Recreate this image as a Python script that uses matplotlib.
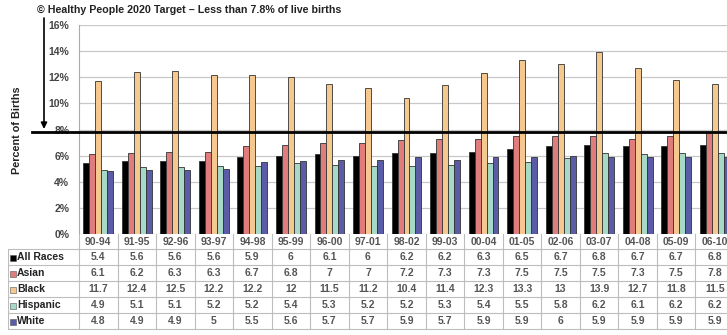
import numpy as np
import matplotlib
matplotlib.use("Agg")
import matplotlib.pyplot as plt

plt.rcParams['font.family'] = ['Liberation Sans', 'DejaVu Sans']

# ----------------------------
# Data (percent of live births, 5-year groups)
# ----------------------------
categories = ['90-94', '91-95', '92-96', '93-97', '94-98', '95-99', '96-00', '97-01',
              '98-02', '99-03', '00-04', '01-05', '02-06', '03-07', '04-08', '05-09', '06-10']
all_races = [5.4, 5.6, 5.6, 5.6, 5.9, 6, 6.1, 6, 6.2, 6.2, 6.3, 6.5, 6.7, 6.8, 6.7, 6.7, 6.8]
asian = [6.1, 6.2, 6.3, 6.3, 6.7, 6.8, 7, 7, 7.2, 7.3, 7.3, 7.5, 7.5, 7.5, 7.3, 7.5, 7.8]
black = [11.7, 12.4, 12.5, 12.2, 12.2, 12, 11.5, 11.2, 10.4, 11.4, 12.3, 13.3, 13, 13.9, 12.7, 11.8, 11.5]
hispanic = [4.9, 5.1, 5.1, 5.2, 5.2, 5.4, 5.3, 5.2, 5.2, 5.3, 5.4, 5.5, 5.8, 6.2, 6.1, 6.2, 6.2]
white = [4.8, 4.9, 4.9, 5, 5.5, 5.6, 5.7, 5.7, 5.9, 5.7, 5.9, 5.9, 6, 5.9, 5.9, 5.9, 5.9]

series_names = ['All Races', 'Asian', 'Black', 'Hispanic', 'White']
series = [all_races, asian, black, hispanic, white]
colors = ['#000000', '#E07C7C', '#F4C88E', '#A6DAC6', '#5B5CA8']

target = 7.8

W, H = 727, 335
fig = plt.figure(figsize=(W / 100, H / 100), dpi=100)

# axes in pixel terms: x 79..734 (runs past the right edge), y 25..234 from top
x0, x1 = 79, 734
y_top, y_bot = 25, 234
ax = fig.add_axes([x0 / W, 1 - y_bot / H, (x1 - x0) / W, (y_bot - y_top) / H])

n = len(categories)
x = np.arange(n)
bw = 0.155
for k, (vals, c) in enumerate(zip(series, colors)):
    ax.bar(x + (k - 2) * bw, vals, width=bw, color=c, edgecolor='#333333',
           linewidth=0.6, zorder=3)

ax.set_xlim(-0.5, n - 0.5)
ax.set_ylim(0, 16)
ax.set_yticks(np.arange(0, 17, 2))
ax.set_yticklabels([f'{v}%' for v in range(0, 17, 2)], fontsize=7.5,
                   fontweight='bold', color='#444444')
ax.tick_params(axis='y', length=0, pad=7)
ax.set_xticks([])
ax.grid(axis='y', color='#c8c8c8', linewidth=0.9, zorder=0)
for s in ['top', 'right', 'bottom']:
    ax.spines[s].set_visible(False)
ax.spines['left'].set_color('#aaaaaa')
ax.spines['left'].set_linewidth(0.8)

# target line, reaching out to the left of the axes
px = (x1 - x0) / n
ax.plot([-0.5 - 47 / px, n - 0.5], [target, target], color='black',
        linewidth=2, clip_on=False, zorder=5)

# arrow and labels
ax.annotate('', xy=(44, H - 129), xytext=(44, H - 18),
            xycoords='figure pixels', textcoords='figure pixels',
            arrowprops=dict(arrowstyle='-|>', color='black', lw=1.2,
                            mutation_scale=9, shrinkA=0, shrinkB=0))
fig.text(17 / W, 1 - 130 / H, 'Percent of Births', rotation=90, ha='center',
         va='center', fontsize=7.8, fontweight='bold', color='#222222')
fig.text(37 / W, 1 - 10 / H, '\u00a9 Healthy People 2020 Target \u2013 Less than 7.8% of live births',
         ha='left', va='center', fontsize=7.7, fontweight='bold', color='#222222')

# ----------------------------
# Data table underneath
# ----------------------------
tx0 = 8
tab = fig.add_axes([tx0 / W, 0, (x1 - tx0) / W, 1 - y_bot / H])
tab.set_xlim(-0.5 - (x0 - tx0) / px, n - 0.5)
tab.set_ylim(H, y_bot)
tab.axis('off')

grid_c = '#bdbdbd'
rows = [249, 265, 281, 297, 313, 329]
for yy in rows:
    tab.plot([-0.5 - (x0 - tx0) / px, n - 0.5], [yy, yy], color=grid_c, lw=0.8)
tab.plot([-0.5 - (x0 - tx0) / px] * 2, [rows[0], rows[-1]], color=grid_c, lw=0.8)
for i in range(n + 1):
    tab.plot([i - 0.5, i - 0.5], [y_bot, rows[-1]], color=grid_c, lw=0.8)

for i, cat in enumerate(categories):
    tab.text(i, (y_bot + rows[0]) / 2 + 0.5, cat, ha='center', va='center',
             fontsize=7.5, fontweight='bold', color='#555555')

lab_x = -0.5 - (x0 - tx0) / px
for r, (name, vals, c) in enumerate(zip(series_names, series, colors)):
    yc = (rows[r] + rows[r + 1]) / 2 + 0.5
    tab.plot(lab_x + 5 / px, yc, marker='s', markersize=4.2, color=c,
             markeredgecolor='#555555', markeredgewidth=0.4)
    tab.text(lab_x + 9 / px, yc, name, ha='left', va='center', fontsize=7.5,
             fontweight='bold', color='#222222')
    for i, v in enumerate(vals):
        tab.text(i, yc, f'{v:g}', ha='center', va='center', fontsize=7.5,
                 fontweight='bold', color='#555555')

fig.savefig('out.png', dpi=100)
